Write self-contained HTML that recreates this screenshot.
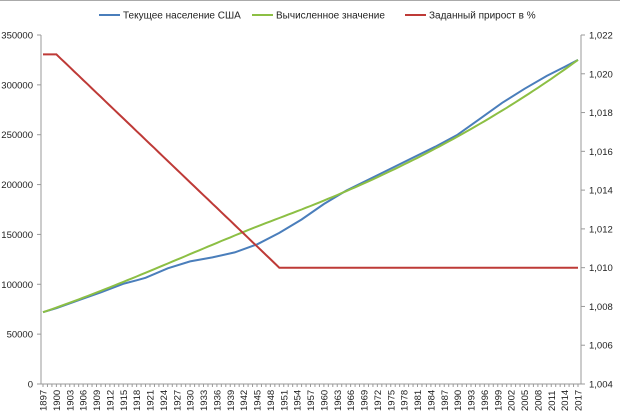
<!DOCTYPE html>
<html><head><meta charset="utf-8"><style>
html,body{margin:0;padding:0;background:#fff;}
svg{display:block;font-family:"Liberation Sans","DejaVu Sans",sans-serif;}
</style></head><body>
<svg id="c" width="620" height="414" xmlns="http://www.w3.org/2000/svg">
<line x1="0" y1="0.5" x2="620" y2="0.5" stroke="#aaa"/>
<g font-size="10" fill="#222">
<line x1="99" y1="15" x2="120" y2="15" stroke="#4a7ebb" stroke-width="2"/><text x="123" y="18.5">Текущее население США</text>
<line x1="252" y1="15" x2="273" y2="15" stroke="#8cbf44" stroke-width="2"/><text x="276" y="18.5">Вычисленное значение</text>
<line x1="405" y1="15" x2="426" y2="15" stroke="#be3a37" stroke-width="2"/><text x="429" y="18.5">Заданный прирост в %</text>
</g>
<g id="ax"></g>
</svg>
<script>
var ns="http://www.w3.org/2000/svg",g=document.getElementById("ax");
function el(t,a,txt){var e=document.createElementNS(ns,t);for(var k in a)e.setAttribute(k,a[k]);if(txt!=null)e.textContent=txt;g.appendChild(e);return e;}
var L=41,R=581,T=35,B=384;
function X(y){return 43+(y-1897)*(535/120);}
function YL(v){return B-(v/350000)*(B-T);}
function YR(v){return B-((v-1.004)/0.018)*(B-T);}
el("line",{x1:L,y1:T,x2:L,y2:B,stroke:"#999"});
el("line",{x1:R,y1:T,x2:R,y2:B,stroke:"#999"});
el("line",{x1:L,y1:B,x2:R,y2:B,stroke:"#999"});
for(var i=0;i<=7;i++){var y=YL(i*50000);el("line",{x1:L-4,y1:y,x2:L,y2:y,stroke:"#999"});
el("text",{x:33,y:y+3.5,"text-anchor":"end","font-size":"9.5",fill:"#222"},String(i*50000));}
for(var i=0;i<=9;i++){var v=1.004+i*0.002,y=YR(v);el("line",{x1:R,y1:y,x2:R+4,y2:y,stroke:"#999"});
el("text",{x:589,y:y+3.5,"font-size":"9.5",fill:"#222"},v.toFixed(3).replace(".",","));}
for(var yr=1897;yr<=2017;yr++){var x=X(yr);el("line",{x1:x,y1:B,x2:x,y2:B+3,stroke:"#999"});
if((yr-1897)%3==0)el("text",{x:0,y:0,transform:"translate("+(x+3.5)+","+(B+27)+") rotate(-90)","font-size":"9.5",fill:"#222"},String(yr));}
// red rate
function rate(yr){if(yr<=1900)return 1.021;if(yr>=1950)return 1.010;return 1.021-(yr-1900)*0.011/50;}
var pr=[],pg=[],p=72000;
for(var yr=1897;yr<=2017;yr++){pr.push(X(yr).toFixed(1)+","+YR(rate(yr)).toFixed(1));pg.push(X(yr).toFixed(1)+","+YL(p).toFixed(1));p*=rate(yr);}
var sc=325000/(p/rate(2017));pg=[];p=72000;
for(var yr=1897;yr<=2017;yr++){var f=Math.pow(sc,(yr-1897)/120);pg.push(X(yr).toFixed(1)+","+YL(p*f).toFixed(1));p*=rate(yr);}
var pts=[[1897,72000],[1900,76000],[1905,84000],[1910,92000],[1915,100500],[1918,104000],[1920,106500],[1925,116000],[1930,123000],[1935,127000],[1940,132000],[1945,140000],[1950,151500],[1955,165000],[1960,180500],[1965,194000],[1970,205000],[1975,216000],[1980,227000],[1985,238000],[1990,250000],[1995,266000],[2000,282000],[2005,296000],[2010,309000],[2014,318000],[2017,325000]];
var pb=pts.map(function(a){return X(a[0]).toFixed(1)+","+YL(a[1]).toFixed(1);});
el("polyline",{points:pb.join(" "),fill:"none",stroke:"#4a7ebb","stroke-width":2});
el("polyline",{points:pg.join(" "),fill:"none",stroke:"#8cbf44","stroke-width":2});
el("polyline",{points:pr.join(" "),fill:"none",stroke:"#be3a37","stroke-width":2});
</script>
</body></html>
